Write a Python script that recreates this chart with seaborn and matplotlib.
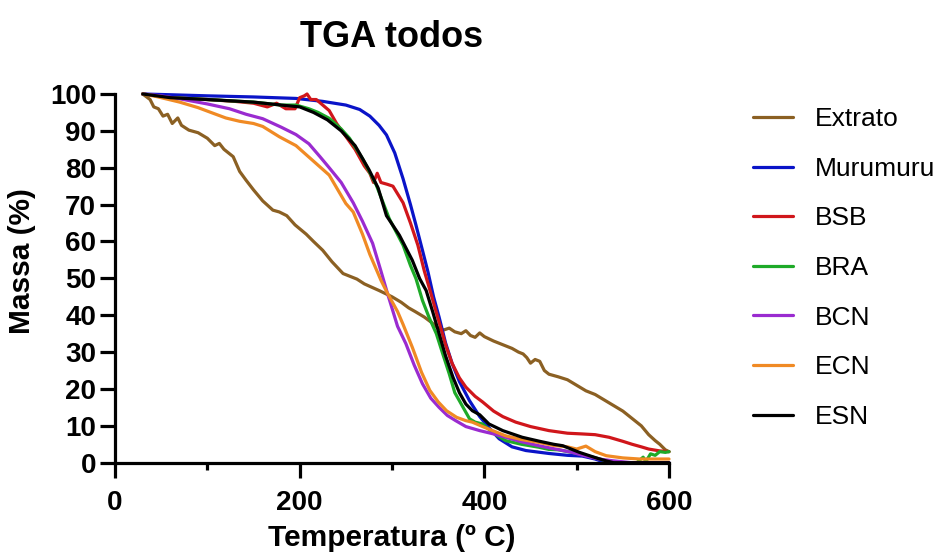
import numpy as np
import pandas as pd
import matplotlib
matplotlib.use("Agg")
import matplotlib.pyplot as plt
import seaborn as sns
from matplotlib.ticker import MultipleLocator

# ---------------- data ----------------
series_names = ["Extrato", "Murumuru", "BSB", "BRA", "BCN", "ECN", "ESN"]

extrato_t = [30, 38, 42, 47, 52, 57, 62, 68, 72, 80, 90, 100, 108, 113, 118, 128, 135, 142, 150, 160,
             171, 178, 186, 195, 207, 215, 225, 235, 247, 255, 262, 270, 286, 300, 310, 318, 325,
             335, 343, 350, 356, 362, 368, 375, 380, 385, 390, 395, 400, 410, 420, 430, 437, 442, 446,
             450, 455, 460, 465, 470, 480, 490, 500, 510, 520, 530, 540, 550, 560, 570, 578, 585, 590,
             596, 600]
extrato_m = [100, 98.5, 96.5, 96, 94, 94.5, 92, 93.5, 91.5, 90.2, 89.5, 88, 86, 86.6, 85, 83, 79, 76.6, 74, 71,
             68.5, 68, 67, 64.5, 62, 60, 57.6, 54.5, 51.3, 50.5, 49.8, 48.5, 46.7, 45, 43.5, 42, 41,
             39.5, 38, 36.5, 36, 36.5, 35.5, 35, 35.8, 34.5, 34, 35.2, 34.2, 33, 32, 31, 30, 29.5, 28.5,
             27, 28, 27.5, 25, 24, 23.3, 22.5, 21, 19.5, 18.5, 17, 15.5, 14, 12, 10, 7.6, 6, 5,
             3.5, 3]

murumuru_t = [30, 60, 100, 150, 196, 225, 250, 265, 276, 286, 294, 303, 312, 320, 326, 333, 339, 345, 351,
              358, 365, 373, 384, 395, 405, 416, 430, 445, 470, 490, 506, 520, 528, 535, 600]
murumuru_m = [100, 99.8, 99.5, 99.2, 98.8, 98, 97, 95.8, 94, 91.5, 88.9, 84, 77, 70, 64.4, 57.6, 51.7, 45, 39.5,
              32.5, 27, 22, 16.8, 12.5, 9.5, 6.5, 4.3, 3.3, 2.5, 2, 1.8, 1, 0.3, 0, 0]

bsb_t = [30, 60, 100, 130, 150, 165, 175, 185, 195, 200, 205, 208, 212, 218, 225, 232, 240, 250, 260, 270,
         276, 280, 284, 288, 295, 301, 312, 320, 328, 335, 342, 350, 358, 365, 373, 380, 390, 398, 410,
         420, 434, 450, 470, 490, 506, 520, 535, 550, 560, 570, 578, 590, 600]
bsb_m = [100, 99, 98.5, 98, 97.5, 96.5, 97.5, 96, 96, 99, 99.5, 100, 98.5, 98.5, 97, 95.5, 92, 88.5, 85, 80.5,
         78.5, 76, 78.5, 76, 75.5, 75, 70.5, 65, 59, 52, 46, 39, 32, 27, 23, 20.5, 18, 16.5, 14,
         12.5, 11, 9.8, 8.7, 8, 7.8, 7.6, 6.9, 5.8, 5, 4.3, 3.7, 3.2, 3]

bra_t = [30, 60, 100, 150, 180, 196, 210, 220, 232, 245, 254, 268, 283, 297, 312, 320, 326, 333, 340, 348,
         355, 362, 368, 373, 377, 384, 390, 398, 410, 423, 440, 459, 470, 480, 495, 510, 525, 532, 545,
         565, 572, 575, 580, 585, 590, 596, 600]
bra_m = [100, 99, 98.5, 97.8, 97, 97, 96, 95, 93.4, 90.5, 88, 82.5, 75.3, 66.2, 59, 53.5, 49.9, 44, 39.5, 35,
         29.5, 24.1, 19, 16.8, 15, 11.9, 11, 10.5, 8, 6, 5, 4.2, 3.6, 3.5, 2.8, 2, 1, 0.5, 0,
         0, 1.5, 0.3, 2.4, 2, 3, 2.8, 3]

bcn_t = [30, 50, 70, 100, 124, 142, 160, 180, 196, 210, 222, 232, 245, 258, 268, 279, 288, 295, 306, 315,
         324, 333, 342, 351, 360, 369, 380, 395, 410, 423, 440, 459, 475, 495, 510, 524, 540, 560, 600]
bcn_m = [100, 99.5, 98.7, 97.3, 96, 94.5, 93.3, 91, 89, 86.5, 83, 80, 76, 70.5, 65.5, 59.5, 52, 46, 37, 32.3,
         26.5, 21.4, 17.5, 15, 12.8, 11.4, 9.8, 8.7, 7.8, 6.9, 5.7, 4.6, 3.8, 2.8, 1.8, 1, 0.5, 0, 0]

ecn_t = [30, 45, 70, 90, 106, 120, 135, 150, 160, 178, 196, 214, 232, 250, 258, 268, 276, 288, 295, 306,
         312, 322, 332, 341, 350, 359, 370, 380, 387, 400, 423, 440, 459, 475, 490, 500, 510, 520, 532,
         550, 568, 585, 596, 600]
ecn_m = [100, 99.3, 97.8, 96.3, 94.8, 93.5, 92.6, 92, 91.2, 88.4, 86, 82, 78, 70.3, 68, 62, 56.5, 49.5, 46, 41,
         37.5, 31.3, 24.5, 19.6, 16.5, 14.1, 12.3, 11.4, 11, 9.6, 7.3, 6.3, 5.5, 4.7, 4.3, 3.7, 4.5, 3, 1.9,
         1.3, 1, 1, 1, 1]

esn_t = [30, 60, 100, 150, 180, 200, 215, 230, 245, 260, 275, 285, 294, 308, 322, 330, 337, 344, 351, 358,
         366, 373, 380, 387, 395, 405, 420, 441, 460, 475, 485, 495, 503, 515, 525, 532, 540, 600]
esn_m = [100, 99, 98.5, 97.8, 97, 96.5, 95, 93, 90, 86, 79.5, 74.5, 67, 61.7, 54.9, 49.9, 46.7, 41, 35, 29,
         23.2, 19, 15.9, 14.1, 13, 10.5, 8.7, 6.9, 5.8, 5, 4.6, 3.6, 2.8, 1.8, 1, 0.5, 0, 0]

series_colors = ["#8B6023", "#0A14C8", "#D0161B", "#1EAA28", "#9A2BD0", "#F08A24", "#000000"]

x_ticks = [0, 200, 400, 600]
y_ticks = list(range(0, 101, 10))

# ---------------- build long-form table ----------------
all_t = [extrato_t, murumuru_t, bsb_t, bra_t, bcn_t, ecn_t, esn_t]
all_m = [extrato_m, murumuru_m, bsb_m, bra_m, bcn_m, ecn_m, esn_m]
frames = []
for name, t, m in zip(series_names, all_t, all_m):
    frames.append(pd.DataFrame({"Temperatura": t, "Massa": m, "Amostra": name}))
df = pd.concat(frames, ignore_index=True)

# ---------------- plot ----------------
sns.set_style("ticks")
plt.rcParams["font.family"] = ["Liberation Sans", "DejaVu Sans"]
plt.rcParams["text.color"] = "black"
plt.rcParams["axes.labelcolor"] = "black"
plt.rcParams["xtick.color"] = "black"
plt.rcParams["ytick.color"] = "black"

fig = plt.figure(figsize=(9.52, 5.55), dpi=100)
ax = fig.add_axes([115 / 952, 1 - 462.7 / 555, (669 - 115) / 952, (462.7 - 94) / 555])

palette = dict(zip(series_names, series_colors))
sns.lineplot(data=df, x="Temperatura", y="Massa", hue="Amostra", hue_order=series_names,
             palette=palette, estimator=None, sort=True, linewidth=2.3, ax=ax, legend=True)
for ln in ax.get_lines():
    ln.set_clip_on(False)

ax.set_xlim(0, 600)
ax.set_ylim(0, 100)
ax.set_xticks(x_ticks)
ax.set_yticks(y_ticks)
ax.xaxis.set_minor_locator(MultipleLocator(100))

for s in ["top", "right"]:
    ax.spines[s].set_visible(False)
for s in ["left", "bottom"]:
    ax.spines[s].set_linewidth(2.3)
    ax.spines[s].set_color("black")

ax.tick_params(axis="both", which="major", length=10.5, width=2.3, color="black",
               labelcolor="black", labelsize=20, pad=3)
ax.tick_params(axis="x", which="major", pad=9)
ax.tick_params(axis="x", which="minor", length=5, width=2.3, color="black")
for lab in ax.get_xticklabels() + ax.get_yticklabels():
    lab.set_fontweight("bold")

ax.set_xlabel("Temperatura (º C)", fontsize=21.5, fontweight="bold", labelpad=6, color="black")
ax.set_ylabel("Massa (%)", fontsize=21.5, fontweight="bold", labelpad=10, color="black", y=0.546)
ax.set_title("TGA todos", fontsize=26, fontweight="bold", pad=34, color="black")

handles, labels = ax.get_legend_handles_labels()
leg = ax.legend(handles, labels, loc="center left", bbox_to_anchor=(753 / 952, 1 - 268 / 555),
                bbox_transform=fig.transFigure, frameon=False, fontsize=19, handlelength=1.5,
                handletextpad=0.85, labelspacing=0.97, borderpad=0, borderaxespad=0)
for lh in leg.get_lines():
    lh.set_linewidth(2.3)
for txt in leg.get_texts():
    txt.set_color("black")

fig.savefig("out.png", dpi=100)
